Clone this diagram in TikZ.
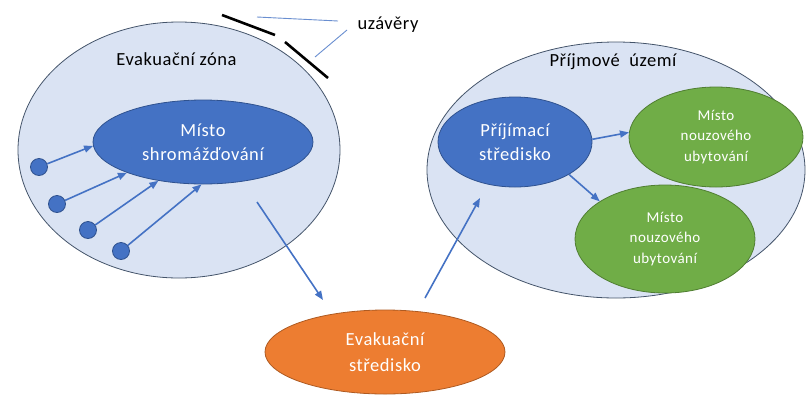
\documentclass[tikz,border=0pt]{standalone}
\usepackage{fontspec}
\setmainfont{Carlito}[LetterSpace=3]
\usetikzlibrary{shapes.geometric,arrows.meta}
\definecolor{zonefill}{HTML}{DAE3F3}
\definecolor{zoneline}{HTML}{44546A}
\definecolor{bluefill}{HTML}{4472C4}
\definecolor{blueline}{HTML}{2F528F}
\definecolor{greenfill}{HTML}{70AD47}
\definecolor{greenline}{HTML}{507E32}
\definecolor{orangefill}{HTML}{ED7D31}
\definecolor{orangeline}{HTML}{AE5A21}
\tikzset{
  zone/.style={ellipse, draw=zoneline, fill=zonefill, line width=0.8pt, inner sep=0pt},
  bluebox/.style={ellipse, draw=blueline, fill=bluefill, line width=0.8pt, inner sep=0pt, text=white, align=center, font=\fontsize{18.5}{24.5}\selectfont},
  greenbox/.style={ellipse, draw=greenline, fill=greenfill, line width=0.8pt, inner sep=0pt, text=white, align=center, font=\fontsize{15}{20.5}\selectfont},
  orangebox/.style={ellipse, draw=orangeline, fill=orangefill, line width=0.8pt, inner sep=0pt, text=white, align=center, font=\fontsize{18.5}{26}\selectfont},
  person/.style={circle, draw=blueline, fill=bluefill, line width=0.8pt, minimum size=17pt, inner sep=0pt},
  flow/.style={-{Triangle[length=9pt,width=7pt]}, draw=bluefill, line width=1.6pt},
  label/.style={font=\fontsize{18.5}{22}\selectfont, text=black, anchor=base},
  closure/.style={draw=black, line width=2.6pt},
  pointer/.style={draw=bluefill!80!white, line width=0.9pt}
}
\begin{document}
\begin{tikzpicture}[x=1pt,y=-1pt]
\useasboundingbox (0,0) rectangle (808,394);
% big zones
\node[zone, minimum width=322pt, minimum height=256pt] (ez) at (179,150) {};
\node[zone, minimum width=378pt, minimum height=256pt] (pu) at (616,170) {};
\node[label] (ezl) at (176.5,65) {Evakuační zóna};
\node[label] (pul) at (613,66) {Příjmové\ \ území};
% gathering place
\node[bluebox, minimum width=220pt, minimum height=84pt] (ms) at (203,142) {Místo\\shromážďování};
% people
\node[person] (c1) at (39,167) {};
\node[person] (c2) at (57,204) {};
\node[person] (c3) at (88,230) {};
\node[person] (c4) at (121,251) {};
\draw[flow] (c1) -- (ms.182);
\draw[flow] (c2) -- (ms.202);
\draw[flow] (c3) -- (ms.221);
\draw[flow] (c4) -- (ms.268);
% reception area
\node[bluebox, minimum width=154pt, minimum height=90pt] (pr) at (515,142) {Příjímací\\středisko};
\node[greenbox, minimum width=174pt, minimum height=100pt] (g1) at (716,137) {Místo\\nouzového\\ubytování};
\node[greenbox, minimum width=180pt, minimum height=108pt] (g2) at (665,239) {Místo\\nouzového\\ubytování};
\draw[flow] (pr.2) -- (g1.177);
\draw[flow] (pr.329) -- (g2.150);
% evacuation centre
\node[orangebox, minimum width=240pt, minimum height=84pt] (es) at (385,352) {Evakuační\\středisko};
\coordinate (a1s) at (257,202);
\coordinate (a1e) at (323,300);
\coordinate (a2s) at (425,298);
\coordinate (a2e) at (480,198);
\draw[flow] (a1s) -- (a1e);
\draw[flow] (a2s) -- (a2e);
% closures
\coordinate (k1a) at (222,15);
\coordinate (k1b) at (275,35);
\coordinate (k2a) at (285,42);
\coordinate (k2b) at (328,78);
\draw[closure] (k1a) -- (k1b);
\draw[closure] (k2a) -- (k2b);
\node[label] (uz) at (388,29) {uzávěry};
\coordinate (p1a) at (257,17);
\coordinate (p1b) at (338,21);
\coordinate (p2a) at (347,30);
\coordinate (p2b) at (315,57);
\draw[pointer] (p1a) -- (p1b);
\draw[pointer] (p2a) -- (p2b);
\end{tikzpicture}
\end{document}
